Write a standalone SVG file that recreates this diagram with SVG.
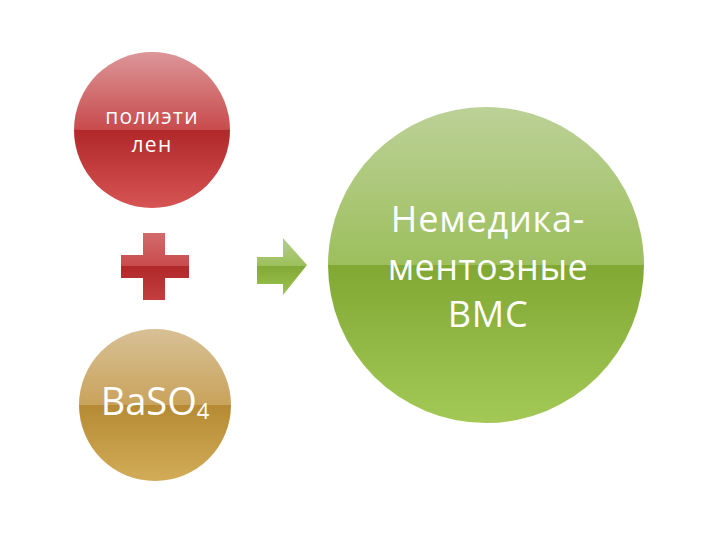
<svg xmlns="http://www.w3.org/2000/svg" width="720" height="540" viewBox="0 0 720 540">
<style>
.t{font-family:"Open Sans","DejaVu Sans",sans-serif;fill:#FFFFFF;text-anchor:middle}
</style>
<defs>
<linearGradient id="gRed" x1="0" y1="0" x2="0" y2="1">
<stop offset="0" stop-color="#DC9699"/><stop offset="0.5" stop-color="#C84B4C"/>
<stop offset="0.5" stop-color="#B1282A"/><stop offset="1" stop-color="#D65454"/>
</linearGradient>
<linearGradient id="gBrown" x1="0" y1="0" x2="0" y2="1">
<stop offset="0" stop-color="#D8C096"/><stop offset="0.5" stop-color="#C9A35C"/>
<stop offset="0.5" stop-color="#B68A34"/><stop offset="1" stop-color="#D2AC58"/>
</linearGradient>
<linearGradient id="gGreen" x1="0" y1="0" x2="0" y2="1">
<stop offset="0" stop-color="#BCD197"/><stop offset="0.5" stop-color="#9DBF5D"/>
<stop offset="0.5" stop-color="#80A833"/><stop offset="1" stop-color="#A3C856"/>
</linearGradient>
<linearGradient id="gPlus" x1="0" y1="0" x2="0" y2="1">
<stop offset="0" stop-color="#D36A6B"/><stop offset="0.5" stop-color="#C84B4C"/>
<stop offset="0.5" stop-color="#B1282A"/><stop offset="1" stop-color="#C23F40"/>
</linearGradient>
<linearGradient id="gArrow" x1="0" y1="0" x2="0" y2="1">
<stop offset="0" stop-color="#B4CF88"/><stop offset="0.5" stop-color="#9CBF5B"/>
<stop offset="0.5" stop-color="#82AA36"/><stop offset="1" stop-color="#9DC250"/>
</linearGradient>
</defs>
<g id="polyethylene">
<circle cx="152" cy="130" r="78" fill="url(#gRed)"/>
<text class="t" x="152" y="124" font-size="21" letter-spacing="1.3">полиэти</text>
<text class="t" x="152" y="152" font-size="21" letter-spacing="1.3">лен</text>
</g>
<g id="baso4">
<circle cx="155" cy="405" r="76" fill="url(#gBrown)"/>
<text class="t" x="155" y="415" font-size="38">BaSO<tspan font-size="22" dy="4">4</tspan></text>
</g>
<g id="result">
<circle cx="486" cy="265" r="158" fill="url(#gGreen)"/>
<text class="t" x="488" y="232" font-size="36" letter-spacing="0.8">Немедика-</text>
<text class="t" x="488" y="280" font-size="36" letter-spacing="0.5">ментозные</text>
<text class="t" x="488" y="327" font-size="36" letter-spacing="0.8">ВМС</text>
</g>
<g id="connectors">
<path id="plus" d="M143,233 H165 V255 H189 V278 H165 V300 H143 V278 H121 V255 H143 Z" fill="url(#gPlus)"/>
<path id="arrow" d="M257,257 H283 V238 L307,265 L283,295 V284 H257 Z" fill="url(#gArrow)"/>
</g>
</svg>
